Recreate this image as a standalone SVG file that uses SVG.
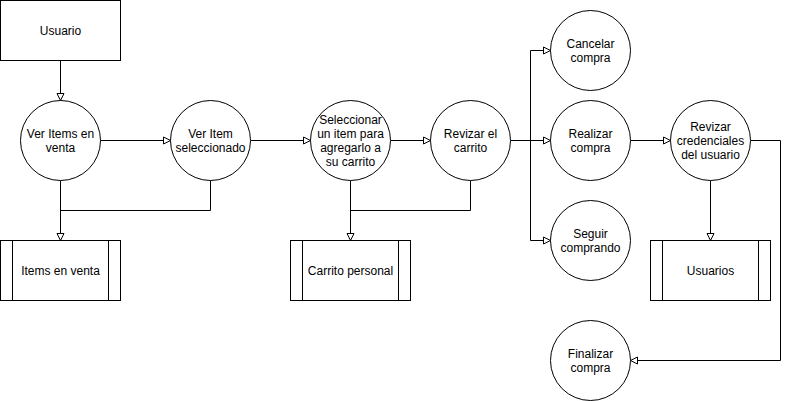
<svg xmlns="http://www.w3.org/2000/svg" width="789" height="401" viewBox="0 0 789 401">
<style>
.n{fill:#fff;stroke:#000;stroke-width:1}
.e{fill:none;stroke:#000;stroke-width:1}
.a{marker-end:url(#arr)}
text{font-family:"Liberation Sans",Arial,Helvetica,sans-serif;font-size:12px;fill:#000;text-anchor:middle}
</style>
<defs>
<marker id="arr" markerUnits="userSpaceOnUse" markerWidth="10" markerHeight="10" refX="7" refY="3.5" orient="auto" overflow="visible">
<path d="M0,0 L7,3.5 L0,7 Z" fill="#fff" stroke="#000" stroke-width="1"/>
</marker>
</defs>
<rect width="789" height="401" fill="#fff"/>
<g transform="translate(0.5,0.5)">
<g id="connectors">
<path class="e a" d="M60,60 V100"/>
<path class="e a" d="M100,140 H170"/>
<path class="e a" d="M60,180 V240"/>
<path class="e" d="M210,180 V210 H60"/>
<path class="e a" d="M250,140 H310"/>
<path class="e a" d="M390,140 H430"/>
<path class="e a" d="M350,180 V240"/>
<path class="e" d="M470,180 V210 H350"/>
<path class="e a" d="M510,140 H530 V50 H550"/>
<path class="e a" d="M530,140 H550"/>
<path class="e a" d="M530,140 V240 H550"/>
<path class="e a" d="M630,140 H670"/>
<path class="e a" d="M710,180 V240"/>
<path class="e a" d="M750,140 H780 V360 H630"/>
</g>
<g id="usuario"><rect class="n" x="0" y="0" width="120" height="60"/><text x="60" y="34">Usuario</text></g>
<g id="ver-items"><circle class="n" cx="60" cy="140" r="40"/><text x="60" y="137">Ver Items en</text><text x="60" y="151">venta</text></g>
<g id="ver-item"><circle class="n" cx="210" cy="140" r="40"/><text x="210" y="137">Ver Item</text><text x="210" y="151">seleccionado</text></g>
<g id="items-en-venta"><rect class="n" x="0" y="240" width="120" height="60"/><path class="e" d="M12,240 V300 M108,240 V300"/><text x="60" y="274">Items en venta</text></g>
<g id="seleccionar"><circle class="n" cx="350" cy="140" r="40"/><text x="350" y="123">Seleccionar</text><text x="350" y="137">un item para</text><text x="350" y="151">agregarlo a</text><text x="350" y="165">su carrito</text></g>
<g id="revizar-carrito"><circle class="n" cx="470" cy="140" r="40"/><text x="470" y="137">Revizar el</text><text x="470" y="151">carrito</text></g>
<g id="carrito-personal"><rect class="n" x="290" y="240" width="120" height="60"/><path class="e" d="M302,240 V300 M398,240 V300"/><text x="350" y="274">Carrito personal</text></g>
<g id="cancelar"><circle class="n" cx="590" cy="50" r="40"/><text x="590" y="47">Cancelar</text><text x="590" y="61">compra</text></g>
<g id="realizar"><circle class="n" cx="590" cy="140" r="40"/><text x="590" y="137">Realizar</text><text x="590" y="151">compra</text></g>
<g id="seguir"><circle class="n" cx="590" cy="240" r="40"/><text x="590" y="237">Seguir</text><text x="590" y="251">comprando</text></g>
<g id="credenciales"><circle class="n" cx="710" cy="140" r="40"/><text x="710" y="130">Revizar</text><text x="710" y="144">credenciales</text><text x="710" y="158">del usuario</text></g>
<g id="usuarios"><rect class="n" x="650" y="240" width="120" height="60"/><path class="e" d="M662,240 V300 M758,240 V300"/><text x="710" y="274">Usuarios</text></g>
<g id="finalizar"><circle class="n" cx="590" cy="360" r="40"/><text x="590" y="357">Finalizar</text><text x="590" y="371">compra</text></g>
</g>
</svg>
